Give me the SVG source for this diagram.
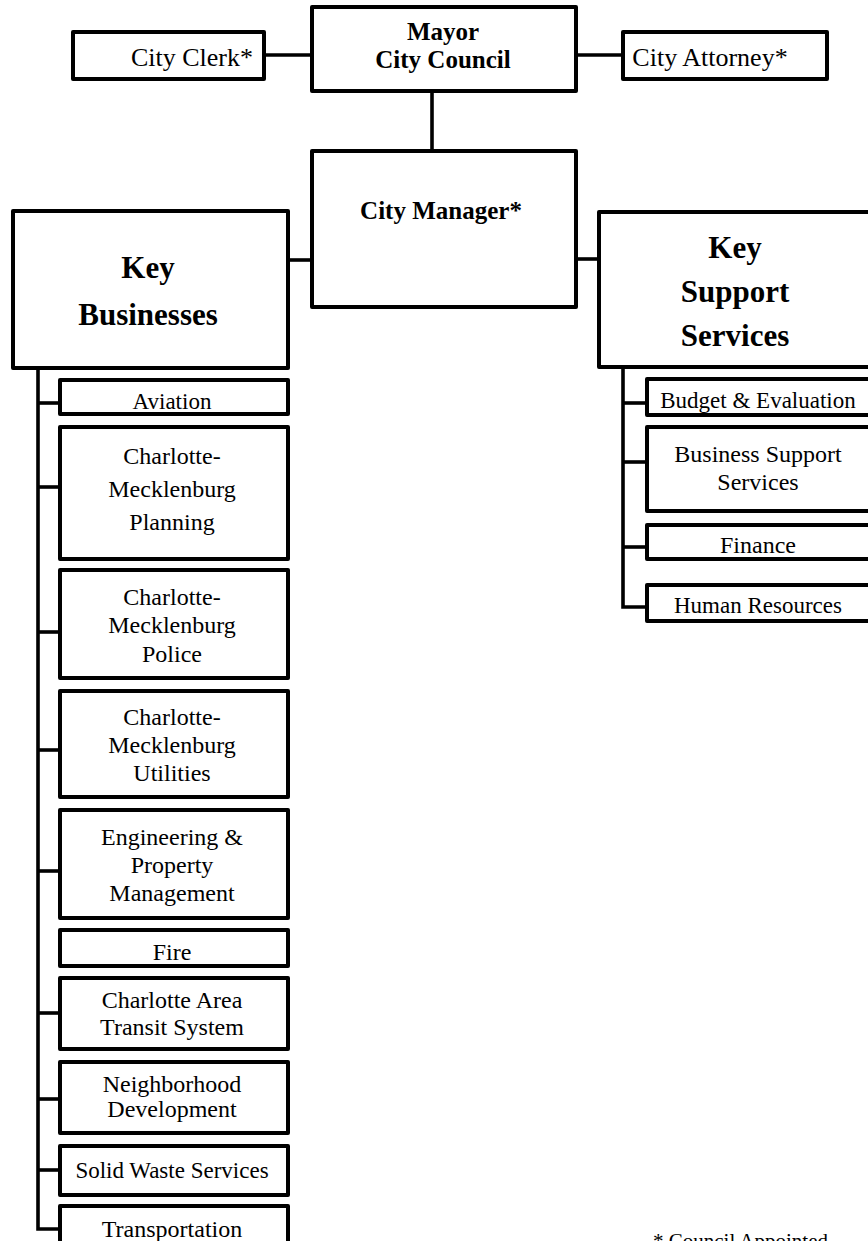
<svg xmlns="http://www.w3.org/2000/svg" width="868" height="1241" viewBox="0 0 868 1241">
<style>
.box{fill:#fff;stroke:#000;stroke-width:4;stroke-linejoin:round}
.ln{fill:none;stroke:#000;stroke-width:3.6}
text{font-family:"Liberation Serif","Times New Roman",serif;fill:#000;text-anchor:middle}
.b{font-weight:bold}
.t26{font-size:26px}
.t25b{font-size:25px;font-weight:bold}
.t31b{font-size:31px;font-weight:bold}
.t24{font-size:24px}
.t23{font-size:23px}
</style>
<rect width="868" height="1241" fill="#fff"/>
<g id="connectors">
<line class="ln" x1="264" y1="55" x2="312" y2="55"/>
<line class="ln" x1="576" y1="55" x2="623" y2="55"/>
<line class="ln" x1="432" y1="91" x2="432" y2="151"/>
<line class="ln" x1="288" y1="260" x2="312" y2="260"/>
<line class="ln" x1="576" y1="259" x2="599" y2="259"/>
<polyline class="ln" points="38,368 38,1229 60,1229"/>
<line class="ln" x1="38" y1="403" x2="60" y2="403"/>
<line class="ln" x1="38" y1="487" x2="60" y2="487"/>
<line class="ln" x1="38" y1="632" x2="60" y2="632"/>
<line class="ln" x1="38" y1="750" x2="60" y2="750"/>
<line class="ln" x1="38" y1="871" x2="60" y2="871"/>
<line class="ln" x1="38" y1="1013" x2="60" y2="1013"/>
<line class="ln" x1="38" y1="1099" x2="60" y2="1099"/>
<line class="ln" x1="38" y1="1170" x2="60" y2="1170"/>
<polyline class="ln" points="623,367 623,607 647,607"/>
<line class="ln" x1="623" y1="403" x2="647" y2="403"/>
<line class="ln" x1="623" y1="462" x2="647" y2="462"/>
<line class="ln" x1="623" y1="547" x2="647" y2="547"/>
</g>
<g id="mayor"><rect class="box" x="312" y="7" width="264" height="84"/>
<text class="t25b" x="443" y="40">Mayor</text><text class="t25b" x="443" y="68">City Council</text></g>
<g id="city-clerk"><rect class="box" x="73" y="32" width="191" height="47"/>
<text class="t26" x="192" y="66">City Clerk*</text></g>
<g id="city-attorney"><rect class="box" x="623" y="32" width="204" height="47"/>
<text class="t26" x="710" y="66">City Attorney*</text></g>
<g id="city-manager"><rect class="box" x="312" y="151" width="264" height="156"/>
<text class="t25b" x="441" y="219">City Manager*</text></g>
<g id="key-businesses"><rect class="box" x="13" y="211" width="275" height="157"/>
<text class="t31b" x="148" y="278">Key</text><text class="t31b" x="148" y="325">Businesses</text></g>
<g id="key-support"><rect class="box" x="599" y="212" width="290" height="155"/>
<text class="t31b" x="735" y="258">Key</text><text class="t31b" x="735" y="302">Support</text><text class="t31b" x="735" y="346">Services</text></g>
<g id="aviation"><rect class="box" x="60" y="380" width="228" height="34"/>
<text class="t23" x="172" y="409">Aviation</text></g>
<g id="planning"><rect class="box" x="60" y="427" width="228" height="132"/>
<text class="t24" x="172" y="464">Charlotte-</text><text class="t24" x="172" y="497">Mecklenburg</text><text class="t24" x="172" y="530">Planning</text></g>
<g id="police"><rect class="box" x="60" y="570" width="228" height="108"/>
<text class="t24" x="172" y="605">Charlotte-</text><text class="t24" x="172" y="633">Mecklenburg</text><text class="t24" x="172" y="662">Police</text></g>
<g id="utilities"><rect class="box" x="60" y="691" width="228" height="106"/>
<text class="t24" x="172" y="725">Charlotte-</text><text class="t24" x="172" y="753">Mecklenburg</text><text class="t24" x="172" y="781">Utilities</text></g>
<g id="engineering"><rect class="box" x="60" y="810" width="228" height="108"/>
<text class="t24" x="172" y="845">Engineering &amp;</text><text class="t24" x="172" y="873">Property</text><text class="t24" x="172" y="901">Management</text></g>
<g id="fire"><rect class="box" x="60" y="930" width="228" height="36"/>
<text class="t24" x="172" y="960">Fire</text></g>
<g id="cats"><rect class="box" x="60" y="978" width="228" height="71"/>
<text class="t24" x="172" y="1008">Charlotte Area</text><text class="t24" x="172" y="1035">Transit System</text></g>
<g id="neighborhood"><rect class="box" x="60" y="1062" width="228" height="71"/>
<text class="t24" x="172" y="1092">Neighborhood</text><text class="t24" x="172" y="1117">Development</text></g>
<g id="solid-waste"><rect class="box" x="60" y="1146" width="228" height="49"/>
<text class="t23" x="172" y="1178">Solid Waste Services</text></g>
<g id="transportation"><rect class="box" x="60" y="1206" width="228" height="60"/>
<text class="t24" x="172" y="1237">Transportation</text></g>
<g id="budget"><rect class="box" x="647" y="379" width="240" height="36"/>
<text class="t23" x="758" y="408">Budget &amp; Evaluation</text></g>
<g id="business-support"><rect class="box" x="647" y="427" width="240" height="84"/>
<text class="t24" x="758" y="462">Business Support</text><text class="t24" x="758" y="490">Services</text></g>
<g id="finance"><rect class="box" x="647" y="525" width="240" height="34"/>
<text class="t24" x="758" y="553">Finance</text></g>
<g id="human-resources"><rect class="box" x="647" y="585" width="240" height="36"/>
<text class="t23" x="758" y="613">Human Resources</text></g>
<g id="note"><text style="font-size:21px;text-anchor:start" x="653" y="1248">* Council Appointed</text></g>
</svg>
